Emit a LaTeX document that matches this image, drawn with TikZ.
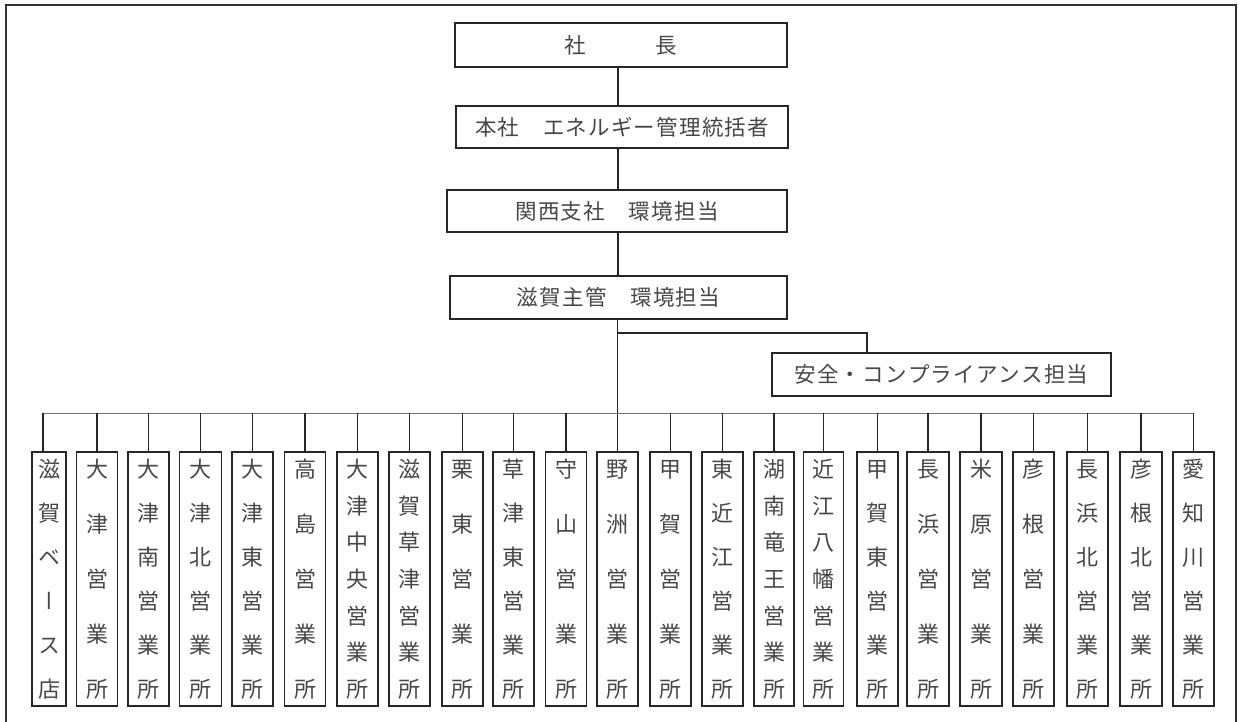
\documentclass[tikz,border=0pt]{standalone}
\usepackage{fontspec}
\setmainfont{Noto Sans CJK JP}
\newfontfamily\jph{Noto Sans CJK JP}
\newfontfamily\jpv[RawFeature=+vert]{Noto Sans CJK JP}

\ExplSyntaxOn
\bool_new:N \l_vt_first_bool
\tl_new:N \l_vt_text_tl
\NewDocumentCommand \vtxt { m }
 {
  \vbox to 239.4pt
   {
    \offinterlineskip
    \jpv
    \tl_set:No \l_vt_text_tl {#1}
    \bool_set_true:N \l_vt_first_bool
    \tl_map_inline:Nn \l_vt_text_tl
     {
      \bool_if:NTF \l_vt_first_bool
       { \bool_set_false:N \l_vt_first_bool }
       { \vfil }
      \hbox to 24pt { \hss \raisebox{0pt}[19.36pt][2.64pt]{##1} \hss }
     }
   }
 }
\NewDocumentCommand \htxt { m }
 {
  \jph
  \tl_map_inline:nn {#1} { \hbox to 22.7pt { \hss ##1 \hss } }
 }
\ExplSyntaxOff

\tikzset{
  frameline/.style={line width=2pt, draw=black!80},
  hbx/.style={draw=black!85, line width=1.6pt, inner sep=0pt, text=black!72,
    font=\fontsize{21.5pt}{24pt}\selectfont},
  vbx/.style={draw=black!85, line width=1.8pt, inner sep=0pt, minimum height=254pt,
    text=black!72, font=\fontsize{22pt}{26pt}\selectfont},
  conn/.style={line width=1.6pt, draw=black!85},
  busline/.style={line width=1pt, draw=black!55},
}

\begin{document}
\begin{tikzpicture}[x=1pt,y=-1pt]
\useasboundingbox (0,0) rectangle (1239,722);
\draw[frameline] (6,722) -- (6,5) -- (1236,5) -- (1236,722);

% upper chain
\node[hbx, minimum width=332pt, minimum height=44pt] (boss) at (621,45) {\htxt{社　　　長}};
\node[hbx, minimum width=332pt, minimum height=42pt] (honsha) at (622,127) {\htxt{本社　エネルギー管理統括者}};
\node[hbx, minimum width=340pt, minimum height=42pt] (kansai) at (617,211) {\htxt{関西支社　環境担当}};
\node[hbx, minimum width=337pt, minimum height=43pt] (shiga) at (618.5,297.5) {\htxt{滋賀主管　環境担当}};
\node[hbx, minimum width=339pt, minimum height=43pt] (safety) at (941.5,374.5) {\htxt{安全・コンプライアンス担当}};

% branch offices
\foreach \i/\x/\w/\t in {
  1/49/34/滋賀ベース店, 2/97/41/大津営業所, 3/148.5/41/大津南営業所,
  4/200.5/42/大津北営業所, 5/252.5/41/大津東営業所, 6/305/41/高島営業所,
  7/357.5/41/大津中央営業所, 8/409.5/41/滋賀草津営業所, 9/462.5/41/栗東営業所,
  10/513.5/41/草津東営業所, 11/566/41/守山営業所, 12/617.5/41/野洲営業所,
  13/670.5/41/甲賀営業所, 14/722.5/41/東近江営業所, 15/774/40/湖南竜王営業所,
  16/823.5/40/近江八幡営業所, 17/877.5/41/甲賀東営業所, 18/928/42/長浜営業所,
  19/981/42/米原営業所, 20/1033.5/41/彦根営業所, 21/1087.5/41/長浜北営業所,
  22/1141/42/彦根北営業所, 23/1193.5/41/愛知川営業所}
{
  \node[vbx, minimum width=\w pt] (b\i) at (\x,579) {\vtxt{\t}};
}

% connectors
\coordinate (mx) at (618,0);
\draw[conn] (boss.south -| mx) -- (honsha.north -| mx);
\draw[conn] (honsha.south -| mx) -- (kansai.north -| mx);
\draw[conn] (kansai.south -| mx) -- (shiga.north -| mx);
\draw[conn] (shiga.south -| b12.north) -- (b12.north);

\coordinate (sj) at (618,333);
\coordinate (sk) at (867,333);
\draw[conn] (sj) -- (sk) -- (sk |- safety.north);

\coordinate (bl) at (43,413);
\draw[busline] (bl) -- (bl -| b23.north);
\draw[conn] (bl) -- (bl |- b1.north);
\foreach \i in {2,...,11,13,14,...,23}
  \draw[conn] (b\i.north |- bl) -- (b\i.north);
\end{tikzpicture}
\end{document}
